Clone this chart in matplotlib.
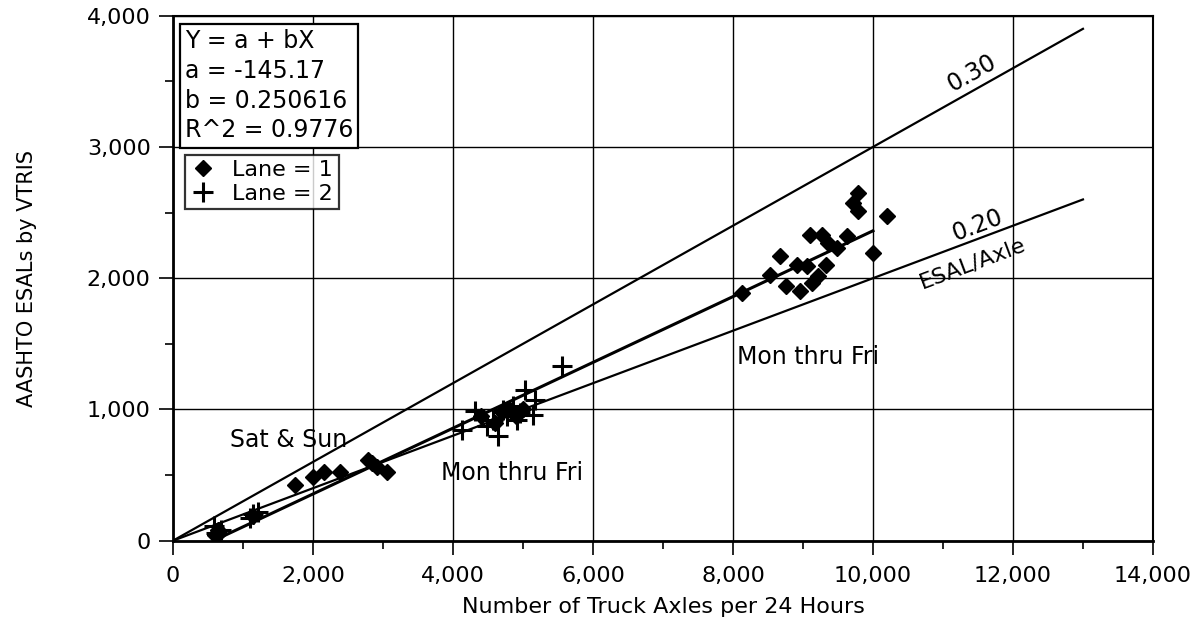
import numpy as np
import matplotlib.pyplot as plt
from matplotlib.ticker import MultipleLocator, FuncFormatter

# Lane 1 (diamonds)
lane1_x = [600, 640, 660, 1150, 1743, 2000, 2157, 2386, 2786, 2850, 2914, 3057,
           4400, 4600, 4700, 4800, 4900, 5000,
           8124, 8528, 8671, 8757, 8910, 8957, 9052, 9100, 9124, 9219, 9267,
           9329, 9362, 9481, 9624, 9719, 9790, 9790, 10004, 10195]
lane1_y = [40, 80, 60, 190, 427, 488, 526, 526, 617, 590, 564, 526,
           950, 900, 980, 1000, 950, 1000,
           1887, 2027, 2166, 1938, 2103, 1900, 2090, 2331, 1963, 2014, 2331,
           2103, 2268, 2230, 2319, 2573, 2648, 2509, 2192, 2471]

# Lane 2 (plus)
lane2_x = [580, 620, 680, 1100, 1150, 1220,
           4124, 4314, 4481, 4576, 4647, 4719, 4767, 4862, 4910, 4957,
           5029, 5148, 5171, 5552]
lane2_y = [110, 60, 80, 170, 200, 220,
           846, 985, 871, 922, 795, 998, 947, 1023, 922, 973,
           1150, 960, 1074, 1328]

a, b = -145.17, 0.250616
fit_x = [580, 10000]
ref_x = [0, 13000]
ref_rates = [0.30, 0.20]

fig, ax = plt.subplots(figsize=(12.01, 6.28), dpi=100)
fig.subplots_adjust(left=0.144, right=0.96, top=0.975, bottom=0.139)

ax.set_xlim(0, 14000)
ax.set_ylim(0, 4000)
ax.xaxis.set_major_locator(MultipleLocator(2000))
ax.xaxis.set_minor_locator(MultipleLocator(1000))
ax.yaxis.set_major_locator(MultipleLocator(1000))
ax.yaxis.set_minor_locator(MultipleLocator(500))
fmt = FuncFormatter(lambda v, p: f"{int(v):,}")
ax.xaxis.set_major_formatter(fmt)
ax.yaxis.set_major_formatter(fmt)
ax.tick_params(which="both", direction="out", width=1.2, color="black", labelsize=16)
ax.tick_params(which="major", length=10)
ax.tick_params(which="minor", length=6)
ax.tick_params(axis="x", pad=8)
ax.tick_params(axis="y", pad=6)
ax.grid(True, which="major", color="black", linewidth=1.0)
for s in ax.spines.values():
    s.set_linewidth(1.5)
ax.spines["left"].set_linewidth(2)
ax.spines["bottom"].set_linewidth(2)

for r in ref_rates:
    ax.plot(ref_x, [r * v for v in ref_x], color="black", linewidth=1.6, zorder=3)
ax.plot(fit_x, [a + b * v for v in fit_x], color="black", linewidth=2.2, zorder=3)

ax.plot(lane1_x, lane1_y, "D", color="black", markersize=8.5, linestyle="none",
        label="Lane = 1", zorder=4)
ax.plot(lane2_x, lane2_y, "+", color="black", markersize=14, markeredgewidth=2.2,
        linestyle="none", label="Lane = 2", zorder=4)

ax.set_xlabel("Number of Truck Axles per 24 Hours", fontsize=16, labelpad=8)
ax.set_ylabel("AASHTO ESALs by VTRIS", fontsize=15, labelpad=36)

# slope labels, rotated to follow the lines on screen
p_to_y = 525 / 4000
p_to_x = 980 / 14000
rot30 = np.degrees(np.arctan(0.30 * p_to_y / p_to_x))
rot20 = np.degrees(np.arctan(0.20 * p_to_y / p_to_x))
ax.text(11420, 3560, "0.30", fontsize=17, rotation=rot30, ha="center", va="center")
ax.text(11500, 2400, "0.20", fontsize=17, rotation=rot20, ha="center", va="center")
ax.text(11430, 2110, "ESAL/Axle", fontsize=16, rotation=rot20, ha="center", va="center")
ax.text(1650, 770, "Sat & Sun", fontsize=17, ha="center", va="center")
ax.text(4843, 518, "Mon thru Fri", fontsize=17, ha="center", va="center")
ax.text(9071, 1400, "Mon thru Fri", fontsize=17, ha="center", va="center")

ax.text(0.012, 0.974, "Y = a + bX\na = -145.17\nb = 0.250616\nR^2 = 0.9776",
        transform=ax.transAxes, fontsize=17, ha="left", va="top", linespacing=1.3,
        bbox=dict(boxstyle="square,pad=0.22", facecolor="white", edgecolor="black", linewidth=1.6),
        zorder=6)

leg = ax.legend(loc="upper left", bbox_to_anchor=(0.005, 0.748), fontsize=16,
                frameon=True, fancybox=False, handletextpad=0.7, borderpad=0.25,
                labelspacing=0.15, handlelength=1.2, borderaxespad=0.3)
leg.get_frame().set_edgecolor("black")
leg.get_frame().set_linewidth(1.6)
leg.set_zorder(6)

fig.savefig("out.png", dpi=100)
